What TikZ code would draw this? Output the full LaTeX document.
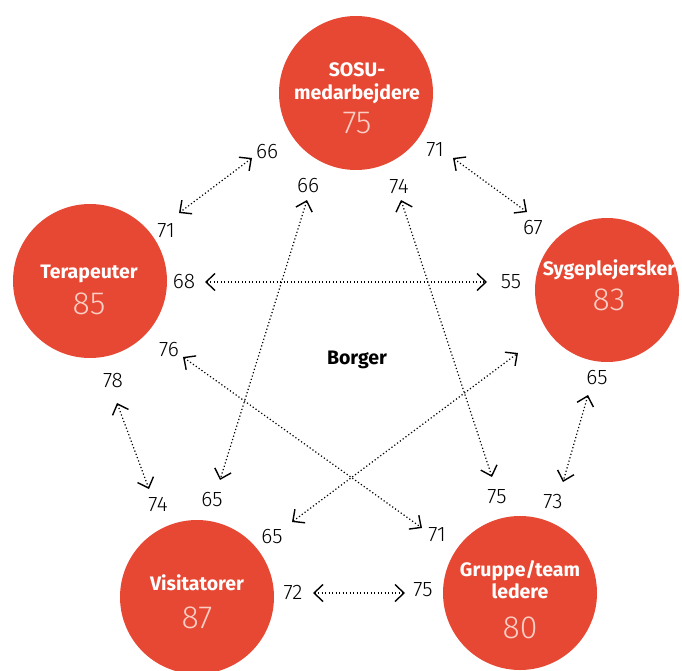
\documentclass[tikz,border=0pt]{standalone}
\usepackage{fontspec}
\setmainfont{Fira Sans}
\newfontfamily\thinfont{Fira Sans Light}
\usetikzlibrary{arrows.meta}
\definecolor{groupred}{RGB}{231,72,52}
\definecolor{scorepink}{RGB}{250,206,196}

\begin{document}
\begin{tikzpicture}[x=1pt, y=-1pt,
    group/.style={circle, fill=groupred, minimum size=154pt, inner sep=0pt},
    gname/.style={anchor=base, text=white, font=\bfseries\fontsize{19.5}{19.5}\selectfont},
    score/.style={anchor=base, text=scorepink, font=\thinfont\fontsize{32}{32}\selectfont},
    val/.style={inner sep=0pt, font=\thinfont\fontsize{21}{21}\selectfont},
    barb/.tip={Straight Barb[length=9pt, width=17pt, line width=1.4pt]},
    link/.style={black, line width=1.2pt, dash pattern=on 1.2pt off 2.3pt, barb-barb}]
    \useasboundingbox (0,0) rectangle (682,671);
    \node[group] (sosu) at (356,93) {};
    \node[group] (ter) at (90,281) {};
    \node[group, minimum size=144pt] (syg) at (607,290) {};
    \node[group] (vis) at (197,597) {};
    \node[group] (grp) at (520,593) {};
    \node[gname] (sosu-a) at (357,77) {SOSU-};
    \node[gname] (sosu-b) at (357,100) {medarbejdere};
    \node[score] (sosu-s) at (357,134) {75};
    \node[gname] (ter-a) at (89,278) {Terapeuter};
    \node[score] (ter-s) at (89,314) {85};
    \node[gname] (syg-a) at (609,275) {Sygeplejersker};
    \node[score] (syg-s) at (609,310) {83};
    \node[gname] (vis-a) at (197,590) {Visitatorer};
    \node[score] (vis-s) at (197,628) {87};
    \node[gname] (grp-a) at (520,576) {Gruppe/team};
    \node[gname] (grp-b) at (520,598) {ledere};
    \node[score] (grp-s) at (520,638) {80};
    \node[anchor=base, font=\bfseries\fontsize{19.5}{19.5}\selectfont] (borger) at (357,364) {Borger};
    \node[val] (s-t) at (267,152) {66};
    \node[val] (t-s) at (166,231) {71};
    \node[val] (s-v) at (308,186) {66};
    \node[val] (v-s) at (212,500) {65};
    \node[val] (s-g) at (399,186) {74};
    \node[val] (g-s) at (497,497) {75};
    \node[val] (s-y) at (435,150) {71};
    \node[val] (y-s) at (533,228) {67};
    \node[val] (t-y) at (184,282) {68};
    \node[val] (y-t) at (511,282) {55};
    \node[val] (t-g) at (169,350) {76};
    \node[val] (g-t) at (437,535) {71};
    \node[val] (t-v) at (113,381) {78};
    \node[val] (v-t) at (158,504) {74};
    \node[val] (v-y) at (272,537) {65};
    \node[val] (y-g) at (597,378) {65};
    \node[val] (g-y) at (553,502) {73};
    \node[val] (v-g) at (293,592) {72};
    \node[val] (g-v) at (423,590) {75};
    \coordinate (a-st) at (252,158);
    \coordinate (a-ts) at (179,213);
    \coordinate (a-sv) at (307,200);
    \coordinate (a-vs) at (220,480);
    \coordinate (a-sg) at (401,200);
    \coordinate (a-gs) at (492,477);
    \coordinate (a-sy) at (453,158);
    \coordinate (a-ys) at (527,212);
    \coordinate (a-ty) at (205,282);
    \coordinate (a-yt) at (487,282);
    \coordinate (a-tg) at (183,357);
    \coordinate (a-gt) at (422,528);
    \coordinate (a-tv) at (117,403);
    \coordinate (a-vt) at (149,489);
    \coordinate (a-vy) at (292,522);
    \coordinate (a-yv) at (518,353);
    \coordinate (a-yg) at (588,395);
    \coordinate (a-gy) at (563,482);
    \coordinate (a-vg) at (313,593);
    \coordinate (a-gv) at (405,593);
    \draw[link] (a-st) -- (a-ts);
    \draw[link] (a-sv) -- (a-vs);
    \draw[link] (a-sg) -- (a-gs);
    \draw[link] (a-sy) -- (a-ys);
    \draw[link] (a-ty) -- (a-yt);
    \draw[link] (a-tg) -- (a-gt);
    \draw[link] (a-tv) -- (a-vt);
    \draw[link] (a-vy) -- (a-yv);
    \draw[link] (a-yg) -- (a-gy);
    \draw[link] (a-vg) -- (a-gv);
  \end{tikzpicture}
\end{document}
